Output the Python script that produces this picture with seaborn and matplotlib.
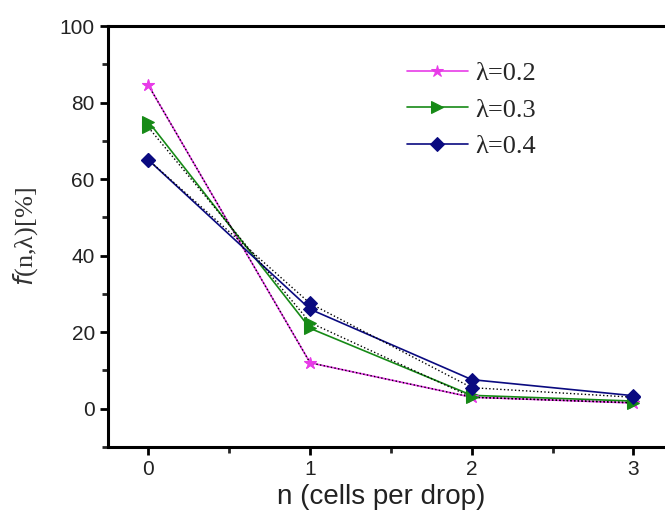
import numpy as np
import pandas as pd
import matplotlib
matplotlib.use("Agg")
import matplotlib.pyplot as plt
import seaborn as sns
from matplotlib.ticker import MultipleLocator

# data
n_vals = [0, 1, 2, 3]
lam_labels = ["λ=0.2", "λ=0.3", "λ=0.4"]
meas_02 = [84.5, 12.0, 3.0, 1.5]
meas_03 = [75.0, 21.0, 3.5, 2.0]
meas_04 = [65.0, 26.0, 7.6, 3.4]
dot_02 = [84.5, 12.0, 3.0, 1.5]
dot_03 = [73.5, 22.5, 3.0, 1.6]
dot_04 = [65.0, 27.5, 5.5, 3.0]

colors = ["#e83ce8", "#168a16", "#0a0a80"]
markers = ["*", ">", "D"]
msizes = [9, 9, 7]

sns.set_style("ticks")
plt.rcParams['font.family'] = ['Liberation Sans', 'DejaVu Sans']

fig = plt.figure(figsize=(6.65, 5.21), dpi=100)
ax = fig.add_axes([108/665, 74/521, 574/665, 421/521])

meas = [meas_02, meas_03, meas_04]
dots = [dot_02, dot_03, dot_04]

for lab, m, d, c, mk, ms in zip(lam_labels, meas, dots, colors, markers, msizes):
    df = pd.DataFrame({"n": n_vals, "f": m})
    sns.lineplot(data=df, x="n", y="f", ax=ax, color=c, marker=mk,
                 markersize=ms, markeredgecolor=c, linewidth=1.2, label=lab)
for d, c, mk, ms in zip(dots, colors, markers, msizes):
    dfd = pd.DataFrame({"n": n_vals, "f": d})
    sns.lineplot(data=dfd, x="n", y="f", ax=ax, color="black", linestyle=":",
                 linewidth=1.0, marker=mk, markersize=ms, markerfacecolor=c,
                 markeredgecolor=c, zorder=3, legend=False)

ax.set_xlim(-0.25, 3.3)
ax.set_ylim(-10, 100)
ax.set_xticks([0, 1, 2, 3])
ax.set_yticks([0, 20, 40, 60, 80, 100])
ax.xaxis.set_minor_locator(MultipleLocator(0.5))
ax.yaxis.set_minor_locator(MultipleLocator(10))
ax.tick_params(which="major", direction="out", length=6, width=2, labelsize=15,
               colors="black", labelcolor="#222222")
ax.tick_params(which="minor", direction="out", length=4, width=2)
for s in ax.spines.values():
    s.set_linewidth(2.2)
    s.set_color("black")

ax.set_xlabel("n (cells per drop)", fontsize=20, color="#222222")
ax.xaxis.set_label_coords(0.476, -0.088)
ax.set_ylabel(r"$f$(n,λ)[%]", fontsize=19, family=["Liberation Serif", "DejaVu Serif"],
              color="#333333")
ax.yaxis.set_label_coords(-0.118, 0.5)

leg = ax.legend(loc="upper left", bbox_to_anchor=(0.521, 0.916), frameon=False,
                prop={"family": ["Liberation Serif", "DejaVu Serif"], "size": 19},
                handlelength=2.3, labelspacing=0.5, handletextpad=0.3,
                borderaxespad=0, borderpad=0)

fig.savefig("out.png", dpi=100)
